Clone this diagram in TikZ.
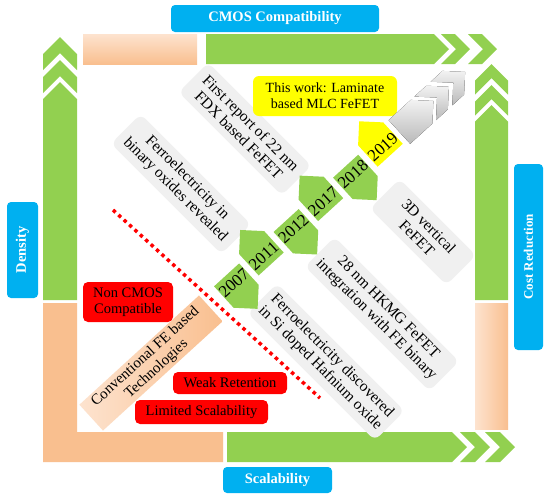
\documentclass[tikz,border=0pt]{standalone}
\usepackage{fontspec}
\setmainfont{Liberation Serif}
\definecolor{cGreen}{HTML}{92D050}
\definecolor{cOrange}{HTML}{F9BF8F}
\definecolor{cOrangeL}{HTML}{FDE3CF}
\definecolor{cBlue}{HTML}{00B0F0}
\definecolor{cRed}{HTML}{FF0000}
\definecolor{cYellow}{HTML}{FFFF00}
\definecolor{cGrayBox}{HTML}{F0F0F0}
\begin{document}
\begin{tikzpicture}[x=1pt,y=-1pt,
  grn/.style={fill=cGreen},
  org/.style={fill=cOrange},
  lbl/.style={fill=cBlue, rounded corners=4pt, text=white, inner sep=0pt,
    font=\fontsize{14.5}{16}\bfseries\selectfont},
  redbox/.style={fill=cRed, rounded corners=5pt, inner sep=0pt, align=center,
    font=\fontsize{14.5}{16}\selectfont},
  graybox/.style={fill=cGrayBox, rounded corners=7pt, inner sep=0pt, align=center,
    rotate=-45, minimum height=42pt, font=\fontsize{15.5}{17}\selectfont},
  yearlbl/.style={rotate=42.4, font=\fontsize{17}{18}\selectfont, inner sep=0pt},
  grayarrow/.style={top color=gray!10, bottom color=gray!55},
  reddots/.style={cRed, line width=3.5pt, dash pattern=on 3.5pt off 3.8pt}
]
\useasboundingbox (0,0) rectangle (550,499);
\fill[white] (0,0) rectangle (550,499);

% ---- top band
\fill[top color=cOrangeL, bottom color=cOrange] (83,34) rectangle (197,64);
\fill[grn] (206,34) -- (434,34) -- (449,49) -- (434,64) -- (206,64) -- cycle;
\fill[grn] (441,34) -- (455,34) -- (470,49) -- (455,64) -- (441,64) -- (456,49) -- cycle;
\fill[grn] (468,34) -- (482,34) -- (497,49) -- (482,64) -- (468,64) -- (483,49) -- cycle;

% ---- left column
\fill[grn] (43,54) -- (60,37) -- (77,54) -- (77,70) -- (60,53) -- (43,70) -- cycle;
\fill[grn] (43,77) -- (60,60) -- (77,77) -- (77,93) -- (60,76) -- (43,93) -- cycle;
\fill[grn] (43,300) -- (43,99) -- (60,82) -- (77,99) -- (77,300) -- cycle;
\fill[org] (43,303) -- (77,303) -- (77,432) -- (223,432) -- (223,462) -- (43,462) -- cycle;

% ---- bottom band
\fill[grn] (227,432) -- (452,432) -- (467,447) -- (452,462) -- (227,462) -- cycle;
\fill[grn] (460,432) -- (475,432) -- (490,447) -- (475,462) -- (460,462) -- (475,447) -- cycle;
\fill[grn] (485,432) -- (500,432) -- (515,447) -- (500,462) -- (485,462) -- (500,447) -- cycle;

% ---- right column
\fill[grn] (475,80.5) -- (491.5,64) -- (508,80.5) -- (508,94.5) -- (491.5,78) -- (475,94.5) -- cycle;
\fill[grn] (475,101.5) -- (491.5,85) -- (508,101.5) -- (508,115.5) -- (491.5,99) -- (475,115.5) -- cycle;
\fill[grn] (475,300) -- (475,121.5) -- (491.5,105) -- (508,121.5) -- (508,300) -- cycle;
\fill[left color=cOrangeL, right color=cOrange] (475,303) rectangle (508,429);

% ---- axis labels
\node[lbl, minimum width=208pt, minimum height=27pt] (cmos) at (275,18.5) {CMOS Compatibility};
\node[lbl, rotate=90, minimum width=96pt, minimum height=31pt] (dens) at (22.5,250) {Density};
\node[lbl, rotate=90, minimum width=186pt, minimum height=29pt,
  font=\fontsize{13}{15}\bfseries\selectfont] (cost) at (528.5,257) {Cost Reduction};
\node[lbl, minimum width=109pt, minimum height=26pt] (scal) at (277.5,480) {Scalability};

% ---- red dotted divider
\coordinate (d1) at (113,210);
\coordinate (d2) at (320,398);
\draw[reddots] (d1) -- (d2);

% ---- gray milestone boxes
\node[graybox, minimum width=146pt] (g1) at (245,129) {First report of 22 nm\\FDX based FeFET};
\node[graybox, minimum width=156pt] (g2) at (181,184) {Ferroelectricity in\\binary oxides revealed};
\node[graybox, minimum width=108pt] (g3) at (423,232) {3D vertical\\FeFET};
\node[graybox, minimum width=176pt] (g4) at (382,314) {28 nm HKMG FeFET\\integration with FE binary};
\node[graybox, minimum width=180pt] (g5) at (326,362) {Ferroelectricity discovered\\in Si doped Hafnium oxide};

% ---- yellow box
\node[fill=cYellow, rounded corners=6pt, inner sep=0pt, align=center,
  minimum width=144pt, minimum height=40pt, font=\fontsize{14}{16}\selectfont]
  (tw) at (325,96) {This work: Laminate\\based MLC FeFET};

% ---- red boxes
\node[redbox, minimum width=90pt, minimum height=40pt] (nc) at (128,302) {Non CMOS\\Compatible};
\node[redbox, minimum width=114pt, minimum height=22pt] (wr) at (230,383) {Weak Retention};
\node[redbox, minimum width=133pt, minimum height=24pt] (ls) at (201.5,412) {Limited Scalability};

% ---- conventional box
\node[left color=cOrangeL, right color=cOrange, rotate=42.4, inner sep=0pt, align=center,
  minimum width=162pt, minimum height=35pt, font=\fontsize{15}{16.5}\selectfont]
  (conv) at (151,363) {Conventional FE based\\Technologies};

% ---- timeline
\begin{scope}[shift={(234,283)}, rotate=42.4]
  % down-right pointing: 2007, 2012, 2018
  \fill[grn] (-17,-11) -- (17,-11) -- (17,18) -- (0,35) -- (-17,18) -- cycle;
  \fill[grn] (63.6,-11) -- (97.6,-11) -- (97.6,18) -- (80.6,35) -- (63.6,18) -- cycle;
  \fill[grn] (144.2,-11) -- (178.2,-11) -- (178.2,18) -- (161.2,35) -- (144.2,18) -- cycle;
  % up-left pointing: 2011, 2017
  \fill[grn] (23.3,11) -- (57.3,11) -- (57.3,-18) -- (40.3,-35) -- (23.3,-18) -- cycle;
  \fill[grn] (103.9,11) -- (137.9,11) -- (137.9,-18) -- (120.9,-35) -- (103.9,-18) -- cycle;
  % 2019 yellow
  \fill[cYellow] (184.5,11) -- (218.5,11) -- (218.5,-18) -- (201.5,-35) -- (184.5,-18) -- cycle;
  % gray arrow
  \fill[grayarrow] (224,-16) -- (254,-16) -- (270,0) -- (254,16) -- (224,16) -- cycle;
  \fill[grayarrow] (259,-16) -- (275,-16) -- (291,0) -- (275,16) -- (259,16) -- (275,0) -- cycle;
  \fill[grayarrow] (281,-16) -- (297,-16) -- (313,0) -- (297,16) -- (281,16) -- (297,0) -- cycle;
  \node[yearlbl] (y07) at (0,0) {2007};
  \node[yearlbl] (y11) at (40.3,0) {2011};
  \node[yearlbl] (y12) at (80.6,0) {2012};
  \node[yearlbl] (y17) at (120.9,0) {2017};
  \node[yearlbl] (y18) at (161.2,0) {2018};
  \node[yearlbl] (y19) at (201.5,0) {2019};
\end{scope}
\end{tikzpicture}
\end{document}
